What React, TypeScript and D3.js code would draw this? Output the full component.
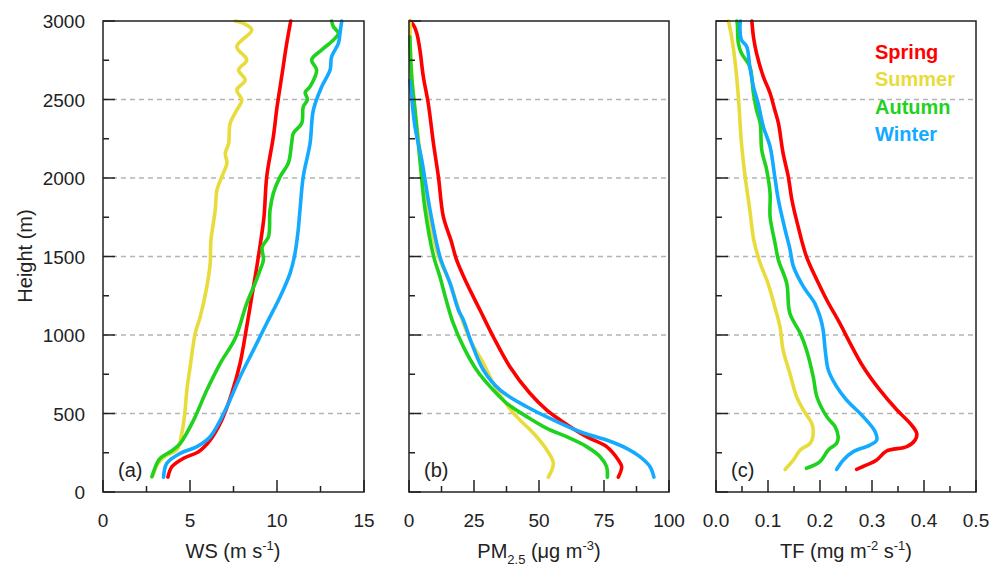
import * as d3 from 'd3';

// [height (m), value] pairs
const wsSpring: [number, number][] = [[95, 3.73], [161, 3.96], [215, 4.63], [257, 5.49], [331, 6.16], [459, 6.83], [629, 7.4], [820, 7.88], [1053, 8.26], [1244, 8.55], [1435, 8.84], [1550, 9.0], [1750, 9.25], [2009, 9.41], [2263, 9.79], [2450, 10.0], [2646, 10.27], [2858, 10.56], [3000, 10.79]];
const wsSummer: [number, number][] = [[100, 2.85], [180, 3.15], [230, 3.6], [268, 4.25], [374, 4.53], [500, 4.7], [650, 4.82], [798, 5.01], [1011, 5.3], [1117, 5.59], [1308, 5.97], [1457, 6.16], [1600, 6.2], [1796, 6.45], [1924, 6.55], [2009, 6.83], [2094, 7.12], [2158, 7.03], [2221, 7.22], [2349, 7.31], [2433, 7.69], [2497, 7.98], [2561, 7.69], [2624, 8.17], [2688, 7.79], [2752, 8.26], [2837, 7.69], [2943, 8.55], [2985, 8.07], [3000, 7.6]];
const wsAutumn: [number, number][] = [[97, 2.81], [183, 3.1], [215, 3.29], [263, 3.96], [310, 4.44], [459, 5.21], [650, 5.97], [820, 6.74], [979, 7.6], [1202, 8.26], [1329, 8.74], [1414, 9.03], [1478, 9.22], [1560, 9.15], [1626, 9.51], [1796, 9.6], [1903, 9.79], [2009, 10.18], [2094, 10.65], [2221, 10.84], [2285, 10.94], [2349, 11.42], [2454, 11.51], [2500, 11.75], [2545, 11.62], [2582, 11.9], [2688, 12.28], [2752, 11.99], [2816, 12.57], [2879, 13.24], [2922, 13.53], [2964, 13.24], [3000, 13.14]];
const wsWinter: [number, number][] = [[95, 3.48], [183, 3.67], [246, 4.44], [289, 5.4], [352, 6.16], [543, 7.12], [734, 7.88], [905, 8.65], [1075, 9.41], [1244, 10.18], [1393, 10.75], [1500, 11.0], [1650, 11.2], [1796, 11.32], [2009, 11.51], [2221, 11.9], [2433, 12.09], [2582, 12.57], [2688, 13.05], [2773, 13.14], [2858, 13.53], [2922, 13.62], [3000, 13.72]];

const pmSpring: [number, number][] = [[95, 80.5], [161, 81.8], [204, 80.5], [289, 76], [352, 68.3], [459, 58.1], [522, 53], [629, 46.5], [798, 38.8], [989, 32.4], [1159, 27.3], [1329, 22.2], [1478, 18.3], [1600, 16.2], [1754, 13.2], [2009, 11.3], [2221, 9.4], [2476, 7.4], [2646, 5.5], [2816, 4.2], [2922, 3], [2975, 1.7], [3000, 0.4]];
const pmSummer: [number, number][] = [[95, 53.6], [183, 55.5], [268, 53], [374, 47.9], [480, 41.4], [586, 36.3], [692, 32.4], [820, 28.6], [968, 23.5], [1138, 19.6], [1329, 15.8], [1478, 11.9], [1600, 9.6], [1796, 7.2], [2115, 4.6], [2433, 2.3], [2646, 1.1], [2858, 0.5], [3000, 0.4]];
const pmAutumn: [number, number][] = [[95, 76.3], [161, 76], [225, 73.5], [289, 68.3], [352, 60.6], [405, 53], [480, 45.3], [565, 37.6], [671, 31.2], [777, 26], [926, 20.9], [1075, 17], [1223, 14.3], [1371, 11.9], [1499, 9.5], [1796, 6.2], [2115, 4.2], [2433, 2.3], [2646, 1], [2900, 0.3]];
const pmWinter: [number, number][] = [[95, 94.2], [161, 92.7], [225, 88.8], [278, 83.7], [331, 76], [384, 65.8], [459, 55.5], [543, 45.3], [650, 35], [777, 28.6], [947, 24.1], [1096, 20.9], [1159, 19], [1329, 15.8], [1499, 11.9], [1796, 8.1], [2115, 4.9], [2327, 2.3], [2518, 1], [2620, 0.3]];

const tfSpring: [number, number][] = [[144, 0.2705], [172, 0.29], [204, 0.309], [261, 0.328], [289, 0.367], [331, 0.383], [374, 0.386], [438, 0.373], [522, 0.348], [650, 0.315], [798, 0.283], [947, 0.258], [1075, 0.238], [1223, 0.213], [1350, 0.194], [1499, 0.174], [1690, 0.158], [1860, 0.146], [2009, 0.139], [2158, 0.129], [2349, 0.12], [2433, 0.113], [2540, 0.104], [2646, 0.091], [2794, 0.078], [2900, 0.072], [3000, 0.069]];
const tfSummer: [number, number][] = [[144, 0.133], [204, 0.149], [268, 0.162], [310, 0.181], [374, 0.187], [438, 0.184], [522, 0.168], [607, 0.155], [756, 0.142], [905, 0.129], [1053, 0.123], [1180, 0.113], [1329, 0.1], [1457, 0.085], [1600, 0.073], [1796, 0.065], [2009, 0.056], [2221, 0.049], [2518, 0.043], [2731, 0.037], [2900, 0.03], [3000, 0.024]];
const tfAutumn: [number, number][] = [[151, 0.174], [193, 0.2], [268, 0.216], [310, 0.232], [352, 0.235], [416, 0.229], [480, 0.213], [607, 0.194], [734, 0.187], [905, 0.174], [1011, 0.162], [1138, 0.142], [1329, 0.136], [1478, 0.12], [1594, 0.113], [1754, 0.104], [1903, 0.104], [2051, 0.0975], [2179, 0.088], [2349, 0.085], [2433, 0.078], [2540, 0.072], [2709, 0.065], [2794, 0.049], [2858, 0.043], [2985, 0.041], [3000, 0.04]];
const tfWinter: [number, number][] = [[144, 0.232], [204, 0.245], [257, 0.264], [299, 0.296], [331, 0.309], [384, 0.306], [480, 0.283], [586, 0.251], [671, 0.232], [777, 0.216], [905, 0.21], [1032, 0.206], [1117, 0.2], [1202, 0.19], [1308, 0.168], [1435, 0.149], [1550, 0.142], [1669, 0.133], [1860, 0.12], [2009, 0.113], [2200, 0.104], [2327, 0.091], [2476, 0.081], [2582, 0.072], [2709, 0.065], [2837, 0.059], [2879, 0.049], [2964, 0.046], [3000, 0.047]];

const seasons = ['Spring', 'Summer', 'Autumn', 'Winter'];
const colors = ['#ff0000', '#e8dc3c', '#1ed21e', '#14aaff'];

const heightTicks = [0, 500, 1000, 1500, 2000, 2500, 3000];
const heightMinor = [250, 750, 1250, 1750, 2250, 2750];

const panels = [
  { key: 'a', label: '(a)', x0: 103, x1: 364, domain: [0, 15], ticks: [0, 5, 10, 15], minor: [2.5, 7.5, 12.5], fmt: (d: number) => String(d), series: [wsSpring, wsSummer, wsAutumn, wsWinter] },
  { key: 'b', label: '(b)', x0: 409, x1: 669, domain: [0, 100], ticks: [0, 25, 50, 75, 100], minor: [12.5, 37.5, 62.5, 87.5], fmt: (d: number) => String(d), series: [pmSpring, pmSummer, pmAutumn, pmWinter] },
  { key: 'c', label: '(c)', x0: 716, x1: 976, domain: [0, 0.5], ticks: [0, 0.1, 0.2, 0.3, 0.4, 0.5], minor: [0.05, 0.15, 0.25, 0.35, 0.45], fmt: d3.format('.1f'), series: [tfSpring, tfSummer, tfAutumn, tfWinter] },
];

const font = 'Liberation Sans, Arial, sans-serif';
const ink = '#222';

export default function App() {
  const y = d3.scaleLinear().domain([0, 3000]).range([492, 21]);

  return (
    <svg width={992} height={566} style={{ position: 'absolute', left: 0, top: 0, background: '#fff' }} fontFamily={font}>
      {panels.map((p) => {
        const x = d3.scaleLinear().domain(p.domain).range([p.x0, p.x1]);
        const line = d3.line<[number, number]>()
          .x((d) => x(d[1]))
          .y((d) => y(d[0]))
          .curve(d3.curveCatmullRom.alpha(0.5));
        return (
          <g key={p.key}>
            {heightTicks.slice(1, -1).map((h) => (
              <line key={h} x1={p.x0} x2={p.x1} y1={y(h)} y2={y(h)} stroke="#b4b4b4" strokeWidth={1.3} strokeDasharray="5,4" />
            ))}
            {p.series.map((s, i) => (
              <path key={i} d={line(s) || ''} fill="none" stroke={colors[i]} strokeWidth={3.6} strokeLinejoin="round" strokeLinecap="round" />
            ))}
            <rect x={p.x0} y={21} width={p.x1 - p.x0} height={471} fill="none" stroke={ink} strokeWidth={1.5} />
            {heightTicks.map((h) => (
              <line key={'ym' + h} x1={p.x0} x2={p.x0 + 12} y1={y(h)} y2={y(h)} stroke={ink} strokeWidth={1.5} />
            ))}
            {heightMinor.map((h) => (
              <line key={'yn' + h} x1={p.x0} x2={p.x0 + 6} y1={y(h)} y2={y(h)} stroke={ink} strokeWidth={1.5} />
            ))}
            {p.ticks.map((t) => (
              <g key={'xm' + t}>
                <line x1={x(t)} x2={x(t)} y1={492} y2={480} stroke={ink} strokeWidth={1.5} />
                <text x={x(t)} y={527} textAnchor="middle" fontSize={19} fill={ink}>{p.fmt(t)}</text>
              </g>
            ))}
            {p.minor.map((t) => (
              <line key={'xn' + t} x1={x(t)} x2={x(t)} y1={492} y2={486} stroke={ink} strokeWidth={1.5} />
            ))}
            <text x={p.x0 + 15} y={477} fontSize={20} fill={ink}>{p.label}</text>
          </g>
        );
      })}

      {heightTicks.map((h) => (
        <text key={'yl' + h} x={85} y={y(h) + 7} textAnchor="end" fontSize={19} fill={ink}>{h}</text>
      ))}
      <text transform={`translate(32,256) rotate(-90)`} textAnchor="middle" fontSize={20} fill={ink}>Height (m)</text>

      <text x={233} y={558} textAnchor="middle" fontSize={20} fill={ink}>
        WS (m s<tspan fontSize={13} dy={-8}>-1</tspan><tspan dy={8}>)</tspan>
      </text>
      <text x={539} y={558} textAnchor="middle" fontSize={20} fill={ink}>
        PM<tspan fontSize={13} dy={6}>2.5</tspan><tspan dy={-6}> (μg m</tspan><tspan fontSize={13} dy={-8}>-3</tspan><tspan dy={8}>)</tspan>
      </text>
      <text x={846} y={558} textAnchor="middle" fontSize={20} fill={ink}>
        TF (mg m<tspan fontSize={13} dy={-8}>-2</tspan><tspan dy={8}> s</tspan><tspan fontSize={13} dy={-8}>-1</tspan><tspan dy={8}>)</tspan>
      </text>

      {seasons.map((s, i) => (
        <text key={s} x={875} y={59 + i * 27.4} fontSize={20} fontWeight="bold" fill={colors[i]}>{s}</text>
      ))}
    </svg>
  );
}
